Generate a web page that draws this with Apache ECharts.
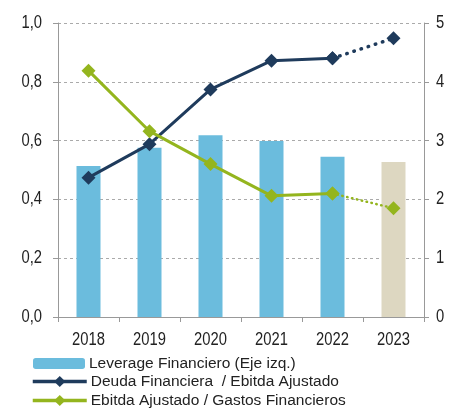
<!DOCTYPE html>
<html><head><meta charset="utf-8">
<script src="https://cdn.jsdelivr.net/npm/echarts@6/dist/echarts.min.js"></script>
<style>html,body{margin:0;padding:0;background:#fff}#c{width:456px;height:408px}</style>
</head><body><div id="c"></div>
<script>
const categories = ['2018','2019','2020','2021','2022','2023'];
const leverage = [0.514, 0.576, 0.618, 0.599, 0.545, 0.527];
const deudaEbitda = [2.37, 2.94, 3.87, 4.36, 4.40, 4.74];
const ebitdaGastos = [4.19, 3.16, 2.60, 2.06, 2.10, 1.85];
const leftTicks = [0, 0.2, 0.4, 0.6, 0.8, 1.0];
const rightTicks = [0, 1, 2, 3, 4, 5];
const projectedIndex = 5;

const FONT = '"Liberation Sans", Arial, sans-serif';
const TXT = '#222';
const BLUE = '#6BBCDD', BEIGE = '#DDD7C1', NAVY = '#1F3B5C', GREEN = '#94B51E';
const AX_FS = 18, AX_SCALE = 0.82;

const solidPart = arr => arr.map((v, i) => i < projectedIndex ? v : null);
const dottedPart = arr => arr.map((v, i) => i >= projectedIndex - 1 ? v : null);

const chart = echarts.init(document.getElementById('c'), null, {renderer: 'canvas'});
const legendCommon = {
  left: 33, itemWidth: 52, itemHeight: 11, itemGap: 4,
  textStyle: {fontFamily: FONT, fontSize: 15.5, color: TXT, padding: [0,0,0,-1]},
  padding: 0, selectedMode: false
};
chart.setOption({
  animation: false,
  textStyle: {fontFamily: FONT},
  grid: {left: 58, right: 32, top: 23, bottom: 91, containLabel: false},
  legend: [
    Object.assign({}, legendCommon, {top: 355.5, itemHeight: 11, data: ['Leverage Financiero (Eje izq.)']}),
    Object.assign({}, legendCommon, {top: 373.5, left: 31, itemWidth: 54, itemHeight: 14, lineStyle: {width: 3.5}, data: ['Deuda Financiera  / Ebitda Ajustado']}),
    Object.assign({}, legendCommon, {top: 392.5, left: 31, itemWidth: 54, itemHeight: 14, lineStyle: {width: 3.5}, data: ['Ebitda Ajustado / Gastos Financieros']})
  ],
  xAxis: {
    type: 'category', data: categories,
    axisLine: {lineStyle: {color: '#999', width: 1}},
    axisTick: {show: true, length: 5, lineStyle: {color: '#999'}},
    axisLabel: {show: false}
  },
  yAxis: [
    {
      type: 'value', min: 0, max: 1, interval: 0.2,
      axisLine: {show: true, lineStyle: {color: '#999'}},
      axisTick: {show: true, length: 5, lineStyle: {color: '#999'}},
      splitLine: {show: true, lineStyle: {color: '#aaa', type: [3, 3], width: 1}},
      axisLabel: {show: false}
    },
    {
      type: 'value', min: 0, max: 5, interval: 1, position: 'right',
      axisLine: {show: true, lineStyle: {color: '#999'}},
      axisTick: {show: true, length: 5, lineStyle: {color: '#999'}},
      splitLine: {show: false},
      axisLabel: {show: false}
    }
  ],
  series: [
    {
      name: 'Leverage Financiero (Eje izq.)', type: 'bar', yAxisIndex: 0, barWidth: 24,
      itemStyle: {color: BLUE},
      data: leverage.map((v, i) => i === projectedIndex ? {value: v, itemStyle: {color: BEIGE}} : v)
    },
    {
      name: 'Deuda Financiera  / Ebitda Ajustado', type: 'line', yAxisIndex: 1,
      data: solidPart(deudaEbitda), symbol: 'diamond', symbolSize: 14,
      lineStyle: {color: NAVY, width: 3}, itemStyle: {color: NAVY}, z: 5
    },
    {
      name: 'deuda_proj', type: 'line', yAxisIndex: 1,
      data: dottedPart(deudaEbitda), symbol: 'diamond', symbolSize: 14,
      lineStyle: {color: NAVY, width: 3.5, type: [0.5, 7], cap: 'round'}, itemStyle: {color: NAVY}, z: 4
    },
    {
      name: 'Ebitda Ajustado / Gastos Financieros', type: 'line', yAxisIndex: 1,
      data: solidPart(ebitdaGastos), symbol: 'diamond', symbolSize: 14,
      lineStyle: {color: GREEN, width: 3}, itemStyle: {color: GREEN}, z: 6
    },
    {
      name: 'ebitda_proj', type: 'line', yAxisIndex: 1,
      data: dottedPart(ebitdaGastos), symbol: 'diamond', symbolSize: 14,
      lineStyle: {color: GREEN, width: 2.5, type: [0.5, 4.5], cap: 'round'}, itemStyle: {color: GREEN}, z: 4
    }
  ]
});

// Axis labels drawn as real text, horizontally condensed to match the narrow face
const g = [];
const txt = (x, y, text, align) => ({
  type: 'text', x: x, y: y, scaleX: AX_SCALE, silent: true,
  style: {text: text, fontFamily: FONT, fontSize: AX_FS, fill: TXT, align: align, verticalAlign: 'middle'}
});
const xBase = chart.convertToPixel({yAxisIndex: 0}, 0);
categories.forEach(c => {
  const px = chart.convertToPixel({xAxisIndex: 0}, c);
  g.push(txt(px, xBase + 23, c, 'center'));
});
leftTicks.forEach(v => {
  const py = chart.convertToPixel({yAxisIndex: 0}, v);
  g.push(txt(42, py, v.toFixed(1).replace('.', ','), 'right'));
});
rightTicks.forEach(v => {
  const py = chart.convertToPixel({yAxisIndex: 1}, v);
  g.push(txt(436, py, String(v), 'left'));
});
chart.setOption({graphic: g});
</script></body></html>
